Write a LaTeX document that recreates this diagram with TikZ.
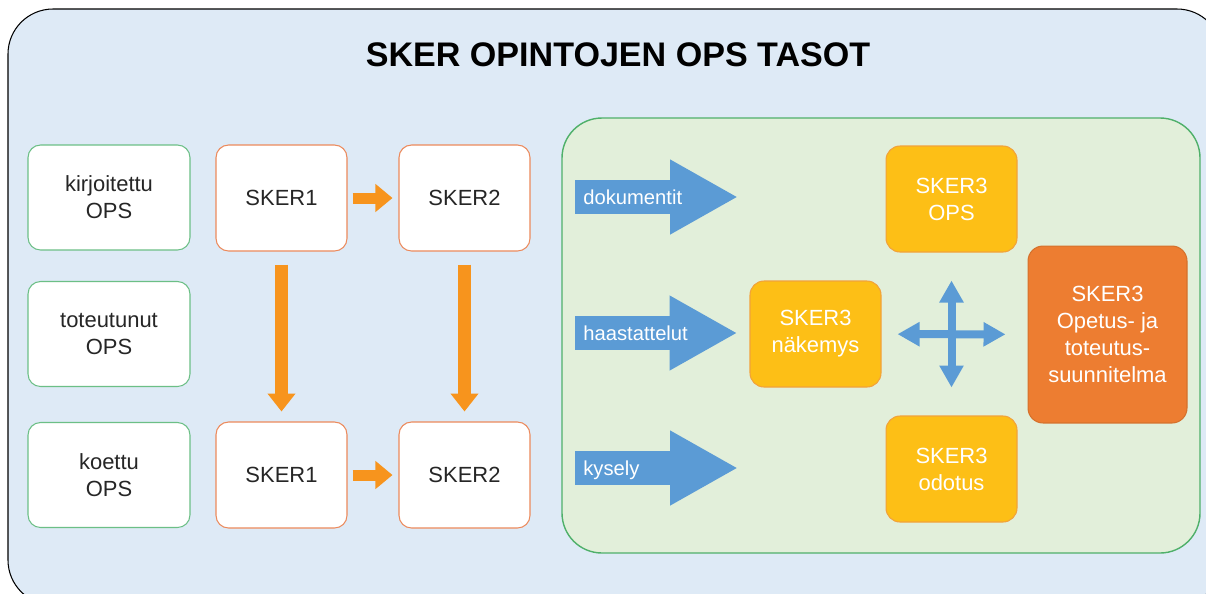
\documentclass[tikz,border=0pt]{standalone}
\usepackage{fontspec}
\setmainfont{Liberation Sans}
\usetikzlibrary{arrows.meta}
\definecolor{bgblue}{HTML}{DEEAF6}
\definecolor{panelgreen}{HTML}{E2EFDA}
\definecolor{panelline}{HTML}{4FB06A}
\definecolor{opsline}{HTML}{6CBF86}
\definecolor{skerline}{HTML}{EC8A5C}
\definecolor{arroworange}{HTML}{F7941D}
\definecolor{skeryellow}{HTML}{FDBF16}
\definecolor{yellowline}{HTML}{F2A23A}
\definecolor{skerorange}{HTML}{ED7D31}
\definecolor{arrowblue}{HTML}{5B9BD5}
\begin{document}
\begin{tikzpicture}[x=0.02cm, y=-0.02cm,
  txt/.style={font=\fontsize{12.5}{15.3}\selectfont, align=center, text=black!85},
  opsbox/.style={txt, draw=opsline, fill=white, line width=0.6pt, rounded corners=0.25cm, minimum width=3.24cm, minimum height=2.1cm},
  skerbox/.style={txt, draw=skerline, fill=white, line width=0.6pt, rounded corners=0.25cm, minimum width=2.62cm, minimum height=2.12cm},
  yellowbox/.style={txt, text=white, draw=yellowline, fill=skeryellow, line width=0.6pt, rounded corners=0.28cm, minimum width=2.62cm, minimum height=2.12cm},
  orangebox/.style={txt, text=white, draw=skerorange!90!black, fill=skerorange, line width=0.6pt, rounded corners=0.3cm, minimum width=3.18cm, minimum height=3.54cm},
  flowright/.style={draw=arroworange, line width=0.22cm, -{Triangle[width=0.54cm, length=0.34cm]}, shorten <=0.1cm, shorten >=0.12cm},
  flowdown/.style={draw=arroworange, line width=0.26cm, -{Triangle[width=0.54cm, length=0.36cm]}, shorten <=0.26cm, shorten >=0.2cm},
  inarrow/.style={draw=arrowblue, line width=0.68cm, -{Triangle[width=1.4cm, length=1.36cm]}},
  intext/.style={font=\fontsize{11.5}{14}\selectfont, text=white, anchor=base west, inner sep=0pt},
  cross/.style={draw=arrowblue, line width=0.16cm, {Triangle[width=0.46cm, length=0.44cm]}-{Triangle[width=0.46cm, length=0.44cm]}}]
\path[use as bounding box, clip] (0,0) rectangle (1206,593);
\draw[fill=bgblue, line width=0.6pt, rounded corners=0.9cm] (8,9) rectangle (1222,605);
\draw[fill=panelgreen, draw=panelline, line width=0.8pt, rounded corners=0.8cm] (562,118) rectangle (1200,553);
\node[font=\bfseries\fontsize{19.4}{23}\selectfont] (title) at (618,55) {SKER OPINTOJEN OPS TASOT};
\node[opsbox] (L_0) at (109,197.5) {kirjoitettu\\OPS};
\node[opsbox] (L_1) at (109,334) {toteutunut\\OPS};
\node[opsbox] (L_2) at (109,475) {koettu\\OPS};
\node[skerbox] (S_1_0) at (281.5,198) {SKER1};
\node[skerbox] (S_2_0) at (464.5,198) {SKER2};
\node[skerbox] (S_1_2) at (281.5,475) {SKER1};
\node[skerbox] (S_2_2) at (464.5,475) {SKER2};
\draw[flowright] (S_1_0) -- (S_2_0);
\draw[flowright] (S_1_2) -- (S_2_2);
\draw[flowdown] (S_1_0) -- (S_1_2);
\draw[flowdown] (S_2_0) -- (S_2_2);
\node[yellowbox] (Y_ops) at (951.5,199) {SKER3\\OPS};
\node[yellowbox] (Y_nak) at (815.5,334) {SKER3\\näkemys};
\node[yellowbox] (Y_odo) at (951.5,469) {SKER3\\odotus};
\node[orangebox] (O_sun) at (1107.5,334.5) {SKER3\\Opetus- ja\\toteutus-\\suunnitelma};
\draw[cross, shorten <=0.32cm, shorten >=0.44cm] (Y_nak) -- (O_sun);
\draw[cross, shorten <=0.56cm, shorten >=0.56cm] (Y_ops) -- (Y_odo);
\coordinate (A_0) at (575,197);
\coordinate (T_0) at (738,197);
\coordinate (A_1) at (575,333);
\coordinate (A_2) at (575,468);
\coordinate (T_2) at (738,468);
\draw[inarrow] (A_0) -- (T_0);
\draw[inarrow, shorten >=0.24cm] (A_1) -- (Y_nak.west |- A_1);
\draw[inarrow] (A_2) -- (T_2);
\node[intext] (D_0) at (583,204) {dokumentit};
\node[intext] (D_1) at (583,340) {haastattelut};
\node[intext] (D_2) at (583,475) {kysely};
\end{tikzpicture}
\end{document}
